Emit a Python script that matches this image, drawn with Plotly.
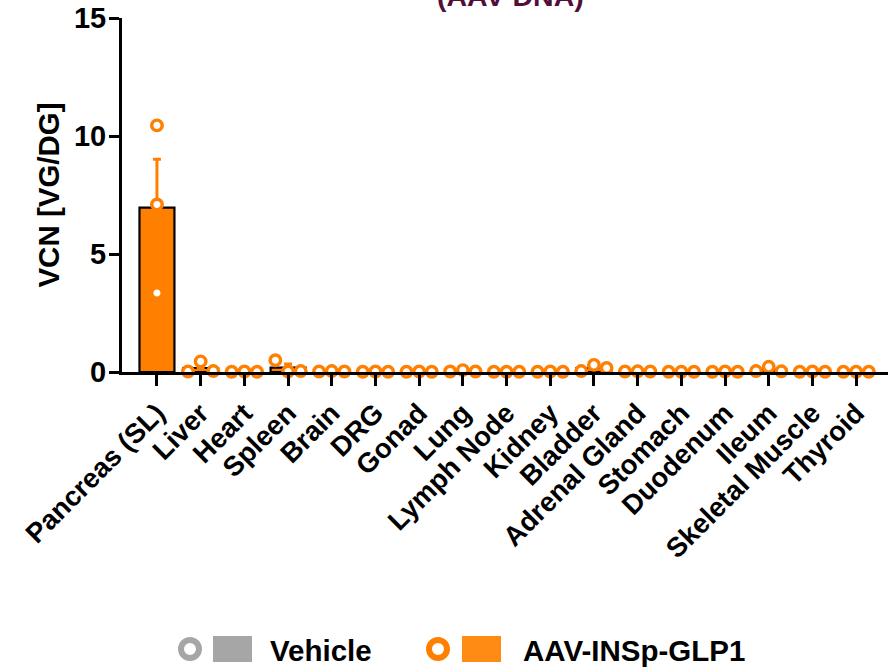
import numpy as np
import plotly.graph_objects as go

categories = ["Pancreas (SL)", "Liver", "Heart", "Spleen", "Brain", "DRG", "Gonad", "Lung",
              "Lymph Node", "Kidney", "Bladder", "Adrenal Gland", "Stomach", "Duodenum",
              "Ileum", "Skeletal Muscle", "Thyroid"]
aav_rep1 = [10.45, 0.02, 0.01, 0.50, 0.02, 0.01, 0.01, 0.02, 0.01, 0.01, 0.04, 0.02, 0.01, 0.01, 0.04, 0.01, 0.01]
aav_rep2 = [7.10, 0.45, 0.02, 0.02, 0.04, 0.02, 0.02, 0.08, 0.01, 0.02, 0.30, 0.03, 0.01, 0.02, 0.22, 0.02, 0.01]
aav_rep3 = [3.35, 0.04, 0.01, 0.04, 0.02, 0.01, 0.01, 0.02, 0.01, 0.01, 0.17, 0.02, 0.01, 0.01, 0.03, 0.01, 0.01]
y_ticks = [0, 5, 10, 15]
legend_labels = ["Vehicle", "AAV-INSp-GLP1"]
title_text = "(AAV DNA)"
y_title = "VCN [VG/DG]"

ORANGE = "#FF8000"
LEG_ORANGE = "#FF8A14"
GREY = "#A6A6A6"
FONT = "Liberation Sans, Arial, sans-serif"

reps = np.array([aav_rep1, aav_rep2, aav_rep3])
means = reps.mean(axis=0)
sem = reps.std(axis=0, ddof=1) / np.sqrt(reps.shape[0])
idx = np.arange(len(categories))

fig = go.Figure()
fig.add_trace(go.Bar(
    x=idx, y=means, width=0.8,
    marker=dict(color=ORANGE, line=dict(color="black", width=2.2)),
    error_y=dict(type="data", array=sem, arrayminus=[0] * len(sem), symmetric=False,
                 color=ORANGE, thickness=3, width=4),
    showlegend=False,
))

# scatter points (spread horizontally when they overlap)
xs, ys = [], []
for i in idx:
    vals = reps[:, i]
    spread = 0.0 if (vals.max() - vals.min()) > 2 else 0.29
    for k, v in enumerate(vals):
        xs.append(i + (k - 1) * spread)
        ys.append(v)
fig.add_trace(go.Scatter(
    x=xs, y=ys, mode="markers", cliponaxis=False,
    marker=dict(symbol="circle", size=10.5, color="white", line=dict(color=ORANGE, width=3.4)),
    showlegend=False,
))

L, R, T, B = 122, 2, 18, 295
W, H = 890, 667
pw, ph = W - L - R, H - T - B


def px_x(p):
    return (p - L) / pw


def px_y(p):
    return (H - B - p) / ph


shapes = []
annotations = []
LEG_Y = 649
leg_items = [(190, 213, 252, 268, GREY, GREY, legend_labels[0]),
             (438, 462, 501, 521, ORANGE, LEG_ORANGE, legend_labels[1])]
for cx, sx0, sx1, tx, ccol, scol, lab in leg_items:
    r = 9
    shapes.append(dict(type="circle", xref="paper", yref="paper",
                       x0=px_x(cx - r), x1=px_x(cx + r), y0=px_y(LEG_Y + r), y1=px_y(LEG_Y - r),
                       line=dict(color=ccol, width=6), fillcolor="white"))
    shapes.append(dict(type="rect", xref="paper", yref="paper",
                       x0=px_x(sx0), x1=px_x(sx1), y0=px_y(662), y1=px_y(636),
                       line=dict(width=0), fillcolor=scol))
    annotations.append(dict(text=lab, xref="paper", yref="paper", x=px_x(tx), y=px_y(LEG_Y + 1),
                            xanchor="left", yanchor="middle", showarrow=False,
                            font=dict(family=FONT, size=29.5, color="black", weight="bold")))

annotations.append(dict(text=title_text, xref="paper", yref="paper", x=px_x(510), y=px_y(14),
                        xanchor="center", yanchor="bottom", showarrow=False,
                        font=dict(family=FONT, size=28.5, color="#520E39", weight="bold")))

fig.update_layout(
    width=W, height=H,
    margin=dict(l=L, r=R, t=T, b=B, autoexpand=False),
    paper_bgcolor="white", plot_bgcolor="white",
    shapes=shapes, annotations=annotations,
    font=dict(family=FONT, color="black"),
)
fig.update_xaxes(
    range=[-0.8, 16.73], tickmode="array", tickvals=idx, ticktext=categories,
    tickangle=-45, ticks="outside", ticklen=11, tickwidth=3, tickcolor="black",
    showline=True, linecolor="black", linewidth=3, showgrid=False, zeroline=False,
    tickfont=dict(family=FONT, size=27.5, color="black", weight="bold"),
)
fig.update_yaxes(
    range=[0, 15], tickmode="array", tickvals=y_ticks,
    ticks="outside", ticklen=10, tickwidth=3, tickcolor="black",
    ticklabelstandoff=-3,
    showline=True, linecolor="black", linewidth=3, showgrid=False, zeroline=False,
    tickfont=dict(family=FONT, size=29, color="black", weight="bold"),
    title=dict(text=y_title, standoff=6, font=dict(family=FONT, size=29.5, color="black", weight="bold")),
)

fig.write_html("out.html",
               config={"displayModeBar": False},
               post_script="document.body.style.margin='0px';document.body.style.padding='0px';"
                           "document.documentElement.style.margin='0px';")
